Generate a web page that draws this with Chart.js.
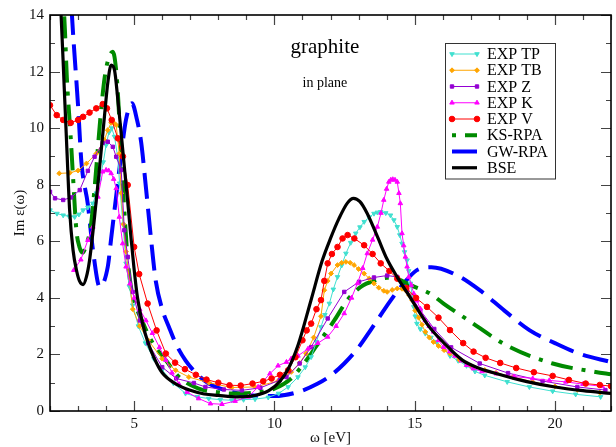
<!DOCTYPE html>
<html>
<head>
<meta charset="utf-8">
<title>graphite in plane</title>
<script src="https://cdn.jsdelivr.net/npm/chart.js@4.4.1/dist/chart.umd.min.js"></script>
<style>
  html, body { margin: 0; padding: 0; background: #fff; }
  canvas { display: block; }
</style>
</head>
<body>
<canvas id="grafico" width="616" height="447"></canvas>
<script>
// energia (eV) e Im eps para cada curva
const expTpX = [2.0, 2.25, 2.47, 2.68, 2.88, 3.03, 3.18, 3.35, 3.53, 3.65, 3.77, 3.9, 4.0, 4.1, 4.2, 4.3, 4.42, 4.48, 4.6, 4.71, 4.83, 4.95, 5.15, 5.4, 5.7, 6.0, 6.4, 6.83, 7.25, 7.66, 8.07, 8.48, 8.9, 9.31, 9.78, 10.15, 10.49, 10.84, 11.1, 11.31, 11.5, 11.66, 11.8, 11.96, 12.1, 12.25, 12.4, 12.55, 12.72, 12.9, 13.05, 13.2, 13.38, 13.55, 13.67, 13.79, 13.97, 14.14, 14.26, 14.38, 14.47, 14.55, 14.64, 14.73, 14.79, 14.85, 14.91, 14.97, 15.02, 15.08, 15.2, 15.38, 15.58, 15.79, 16.03, 16.26, 16.55, 16.85, 17.15, 17.5, 18.3, 19.09, 19.92, 20.74, 21.63];
const expTpY = [7.1, 6.98, 6.92, 6.88, 6.86, 6.95, 7.1, 7.2, 7.34, 7.7, 8.16, 8.8, 9.4, 9.85, 10.0, 9.7, 8.93, 8.05, 6.6, 5.22, 4.4, 3.74, 3.0, 2.4, 1.85, 1.45, 0.98, 0.62, 0.5, 0.44, 0.4, 0.38, 0.4, 0.42, 0.48, 0.62, 0.85, 1.2, 1.55, 1.91, 2.45, 2.97, 3.4, 3.8, 4.3, 4.74, 5.15, 5.57, 5.95, 6.28, 6.5, 6.69, 6.85, 6.98, 7.02, 7.04, 7.0, 6.92, 6.75, 6.51, 6.22, 5.92, 5.62, 5.33, 4.95, 4.51, 4.1, 3.68, 3.35, 3.09, 2.9, 2.74, 2.6, 2.44, 2.2, 1.95, 1.78, 1.6, 1.4, 1.26, 1.03, 0.85, 0.7, 0.59, 0.5];

const expTbX = [2.33, 2.71, 3.0, 3.3, 3.65, 3.94, 4.06, 4.18, 4.28, 4.36, 4.47, 4.54, 4.62, 4.71, 4.95, 5.2, 5.5, 6.0, 6.48, 6.95, 7.66, 8.48, 9.31, 10.13, 10.6, 10.9, 11.13, 11.4, 11.66, 11.78, 11.9, 12.02, 12.25, 12.4, 12.55, 12.7, 12.84, 13.0, 13.2, 13.38, 13.55, 13.72, 13.9, 14.02, 14.2, 14.38, 14.55, 14.67, 14.8, 14.91, 15.02, 15.14, 15.26, 15.38, 15.52, 15.67, 15.85, 16.05, 16.26, 16.6, 17.0, 17.5, 17.9, 18.5, 19.2, 20.0, 20.8, 21.6];
const expTbY = [8.4, 8.42, 8.5, 8.75, 9.1, 9.58, 9.93, 10.19, 10.18, 10.11, 9.1, 7.7, 6.6, 5.63, 3.6, 3.0, 2.5, 1.85, 1.44, 1.2, 1.0, 0.83, 0.85, 1.06, 1.38, 1.7, 2.03, 2.6, 3.35, 4.27, 4.6, 4.86, 5.16, 5.24, 5.27, 5.24, 5.16, 5.02, 4.86, 4.68, 4.51, 4.36, 4.25, 4.21, 4.28, 4.33, 4.32, 4.27, 4.1, 3.92, 3.55, 3.3, 3.05, 2.8, 2.6, 2.44, 2.3, 2.15, 2.03, 1.8, 1.6, 1.45, 1.35, 1.2, 1.03, 0.87, 0.75, 0.65];

const expZX = [2.0, 2.18, 2.47, 2.75, 3.06, 3.35, 3.59, 3.88, 4.06, 4.24, 4.36, 4.54, 4.65, 4.77, 4.95, 5.2, 5.5, 6.0, 6.5, 7.13, 7.54, 8.2, 8.84, 9.5, 10.19, 10.43, 10.9, 11.31, 11.9, 12.49, 13.02, 13.55, 14.02, 14.38, 14.73, 15.2, 15.7, 16.3, 17.32, 18.33, 19.56, 20.8, 21.8];
const expZY = [7.75, 7.52, 7.46, 7.55, 7.81, 8.49, 8.99, 9.48, 9.52, 9.34, 8.99, 8.52, 6.39, 5.45, 4.21, 3.2, 2.4, 1.55, 1.15, 0.99, 0.85, 0.76, 0.73, 0.82, 1.09, 1.2, 1.68, 2.26, 3.27, 4.21, 4.57, 4.72, 4.79, 4.74, 4.27, 3.56, 2.9, 2.25, 1.68, 1.34, 1.06, 0.85, 0.74];

const expKX = [2.85, 3.1, 3.35, 3.53, 3.71, 3.88, 4.0, 4.09, 4.18, 4.27, 4.36, 4.47, 4.59, 4.71, 4.85, 5.0, 5.2, 5.42, 5.65, 5.9, 6.13, 6.35, 6.6, 6.89, 7.3, 7.72, 8.13, 8.6, 9.07, 9.42, 9.84, 10.13, 10.43, 10.6, 10.84, 11.2, 11.55, 11.9, 12.2, 12.49, 12.75, 12.96, 13.15, 13.31, 13.5, 13.67, 13.8, 13.9, 14.0, 14.08, 14.15, 14.22, 14.3, 14.38, 14.44, 14.49, 14.55, 14.61, 14.67, 14.73, 14.79, 14.88, 14.97, 15.08, 15.2, 15.38, 15.52, 15.67, 15.85, 16.03, 16.25, 16.44, 16.67, 16.85, 17.09, 17.4, 17.91, 18.55, 19.21, 19.8, 20.39, 21.0, 21.69];
const expKY = [4.98, 5.35, 6.04, 6.51, 7.57, 8.46, 8.52, 8.5, 8.4, 8.2, 7.87, 6.86, 5.92, 5.1, 4.5, 4.0, 3.6, 3.2, 2.75, 2.25, 1.8, 1.35, 0.95, 0.67, 0.44, 0.26, 0.24, 0.35, 0.5, 0.85, 1.32, 1.6, 1.73, 1.85, 1.95, 2.2, 2.4, 2.62, 3.0, 3.45, 4.0, 4.51, 5.05, 5.57, 6.05, 6.51, 7.0, 7.46, 7.85, 8.1, 8.17, 8.19, 8.17, 8.1, 7.7, 7.34, 6.28, 5.85, 5.45, 5.1, 4.74, 4.45, 4.15, 3.9, 3.62, 3.2, 3.0, 2.8, 2.5, 2.26, 2.1, 1.95, 1.78, 1.62, 1.5, 1.4, 1.32, 1.22, 1.15, 1.08, 1.03, 0.95, 0.87];

const expVX = [2.0, 2.24, 2.47, 2.74, 3.0, 3.18, 3.41, 3.65, 3.88, 4.03, 4.2, 4.42, 4.6, 4.77, 5.0, 5.18, 5.48, 5.8, 6.13, 6.46, 6.81, 7.2, 7.58, 8.0, 8.4, 8.8, 9.22, 9.6, 9.9, 10.2, 10.49, 10.75, 11.0, 11.15, 11.31, 11.5, 11.66, 11.78, 11.9, 12.05, 12.25, 12.43, 12.61, 12.85, 13.2, 13.5, 13.79, 14.1, 14.38, 14.7, 15.05, 15.44, 15.85, 16.26, 16.73, 17.1, 17.53, 18.05, 18.62, 19.25, 19.92, 20.5, 21.1, 21.6, 22.0];
const expVY = [10.81, 10.46, 10.29, 10.19, 10.29, 10.4, 10.55, 10.7, 10.85, 10.7, 10.29, 9.64, 9.0, 7.99, 5.8, 4.84, 3.8, 2.85, 2.03, 1.71, 1.48, 1.28, 1.11, 1.0, 0.91, 0.9, 0.97, 1.05, 1.15, 1.28, 1.44, 1.9, 2.5, 2.85, 3.09, 3.6, 3.92, 4.6, 5.22, 5.55, 5.8, 6.1, 6.22, 6.1, 5.86, 5.55, 5.22, 4.95, 4.68, 4.35, 4.0, 3.68, 3.3, 2.86, 2.4, 2.1, 1.88, 1.7, 1.52, 1.37, 1.24, 1.1, 0.97, 0.92, 0.88];

const ksRpaX = [2.42, 2.53, 2.6, 2.73, 2.82, 2.94, 3.05, 3.16, 3.3, 3.45, 3.6, 3.8, 3.95, 4.1, 4.24, 4.38, 4.5, 4.62, 4.75, 4.9, 5.1, 5.3, 5.54, 5.8, 6.13, 6.6, 7.3, 8.0, 8.48, 9.3, 10.0, 10.6, 10.96, 11.5, 12.14, 12.6, 13.08, 13.6, 14.02, 14.4, 14.85, 15.55, 16.03, 16.91, 18.33, 19.92, 21.45, 22.0];
const ksRpaY = [15.5, 13.5, 11.8, 9.8, 8.3, 6.4, 5.8, 5.6, 5.9, 6.5, 8.0, 10.4, 11.8, 12.5, 12.7, 11.8, 9.8, 7.6, 5.6, 4.3, 3.6, 3.15, 2.62, 2.2, 1.79, 1.2, 0.79, 0.66, 0.62, 0.65, 0.79, 1.15, 1.56, 2.3, 3.21, 3.92, 4.39, 4.62, 4.71, 4.66, 4.45, 4.15, 3.8, 3.21, 2.29, 1.68, 1.38, 1.3];

const gwRpaX = [2.7, 2.8, 3.0, 3.12, 3.35, 3.53, 3.77, 4.06, 4.18, 4.36, 4.53, 4.71, 4.92, 5.1, 5.25, 5.42, 5.6, 5.77, 6.0, 6.24, 6.5, 6.83, 7.2, 7.66, 8.3, 9.07, 10.0, 10.84, 11.55, 12.0, 12.49, 13.0, 13.43, 14.14, 14.6, 15.08, 15.6, 16.5, 17.32, 18.2, 19.09, 20.0, 20.86, 22.0];
const gwRpaY = [15.5, 13.7, 10.8, 8.8, 7.3, 5.7, 4.39, 5.1, 6.1, 7.6, 9.0, 10.3, 10.88, 10.3, 9.5, 7.9, 6.1, 4.6, 3.6, 2.97, 2.35, 1.79, 1.35, 0.97, 0.72, 0.56, 0.53, 0.67, 0.97, 1.25, 1.68, 2.25, 2.86, 3.9, 4.5, 4.98, 5.08, 4.8, 4.27, 3.55, 2.86, 2.4, 2.03, 1.73];

const bseX = [2.3, 2.4, 2.5, 2.6, 2.7, 2.82, 2.95, 3.05, 3.18, 3.3, 3.41, 3.59, 3.77, 3.94, 4.06, 4.18, 4.3, 4.42, 4.54, 4.65, 4.77, 4.89, 5.0, 5.12, 5.3, 5.5, 5.7, 6.0, 6.5, 7.0, 7.5, 8.0, 8.7, 9.3, 9.8, 10.2, 10.5, 10.85, 11.3, 11.7, 12.0, 12.3, 12.6, 12.82, 13.05, 13.3, 13.7, 14.0, 14.4, 14.85, 15.5, 16.0, 16.7, 17.2, 18.0, 19.0, 20.0, 21.0, 22.0];
const bseY = [15.2, 13.9, 11.6, 9.3, 7.1, 5.7, 4.95, 4.6, 4.47, 4.75, 5.33, 6.87, 8.63, 10.4, 11.6, 12.23, 12.05, 11.0, 9.8, 8.63, 7.4, 6.1, 5.0, 4.0, 3.1, 2.4, 1.9, 1.35, 0.95, 0.73, 0.6, 0.55, 0.5, 0.55, 0.72, 1.05, 1.5, 2.35, 3.9, 5.3, 6.1, 6.8, 7.35, 7.52, 7.4, 7.0, 6.1, 5.4, 4.7, 4.0, 3.0, 2.45, 1.8, 1.55, 1.3, 1.04, 0.85, 0.72, 0.62];

const ticksX = [5, 10, 15, 20];

const fonte = "'Liberation Serif', 'Times New Roman', serif";

function pontos(xs, ys) {
    return xs.map((x, i) => ({ x: x, y: ys[i] }));
}

function serieExp(label, cor, xs, ys, estilo, raio, rot, ordem) {
    return {
        label: label, data: pontos(xs, ys),
        borderColor: cor, backgroundColor: cor, borderWidth: 1,
        pointStyle: estilo, pointRadius: raio, pointRotation: rot || 0,
        pointBorderWidth: 1, tension: 0, order: ordem, clip: 0
    };
}

function serieTeo(label, cor, xs, ys, largura, tracejado, ordem) {
    return {
        label: label, data: pontos(xs, ys),
        borderColor: cor, backgroundColor: cor, borderWidth: largura,
        borderDash: tracejado, pointRadius: 0, cubicInterpolationMode: 'monotone',
        order: ordem, clip: 0
    };
}

const datasets = [
    serieExp('EXP TP', '#40e0d0', expTpX, expTpY, 'triangle', 2.6, 180, 5),
    serieExp('EXP TB', '#ffa500', expTbX, expTbY, 'rectRot', 2.4, 0, 4),
    serieExp('EXP Z', '#9400d3', expZX, expZY, 'rect', 2.4, 0, 3),
    serieExp('EXP K', '#ff00ff', expKX, expKY, 'triangle', 2.6, 0, 2),
    serieExp('EXP V', '#ff0000', expVX, expVY, 'circle', 2.8, 0, 1),
    serieTeo('KS-RPA', '#008a00', ksRpaX, ksRpaY, 4, [22, 9, 4, 9], 6),
    serieTeo('GW-RPA', '#0000ff', gwRpaX, gwRpaY, 4, [26, 10], 7),
    serieTeo('BSE', '#000000', bseX, bseY, 3.2, [], 0)
];

// marcas de escala para dentro nos quatro lados + moldura
const marcasInternas = {
    id: 'marcasInternas',
    afterDatasetsDraw(chart) {
        const { ctx, chartArea: a, scales: { x, y } } = chart;
        ctx.save();
        ctx.strokeStyle = '#444';
        ctx.lineWidth = 1.2;
        ctx.beginPath();
        for (let v = 2; v <= 22; v++) {
            const px = Math.round(x.getPixelForValue(v)) + 0.5;
            const len = v % 5 === 0 ? 10 : 5;
            ctx.moveTo(px, a.bottom); ctx.lineTo(px, a.bottom - len);
            ctx.moveTo(px, a.top); ctx.lineTo(px, a.top + len);
        }
        for (let v = 0; v <= 14; v++) {
            const py = Math.round(y.getPixelForValue(v)) + 0.5;
            const len = v % 2 === 0 ? 10 : 5;
            ctx.moveTo(a.left, py); ctx.lineTo(a.left + len, py);
            ctx.moveTo(a.right, py); ctx.lineTo(a.right - len, py);
        }
        ctx.stroke();
        ctx.strokeStyle = '#000';
        ctx.lineWidth = 1.6;
        ctx.strokeRect(a.left, a.top, a.right - a.left, a.bottom - a.top);

        // textos dentro do grafico
        ctx.fillStyle = '#000';
        ctx.textAlign = 'center';
        ctx.textBaseline = 'alphabetic';
        ctx.font = '21px ' + fonte;
        ctx.fillText('graphite', x.getPixelForValue(11.8), y.getPixelForValue(12.65));
        ctx.font = '14px ' + fonte;
        ctx.fillText('in plane', x.getPixelForValue(11.8), y.getPixelForValue(11.45));
        ctx.restore();
    }
};

// legenda desenhada dentro da area do grafico
const legendaCaixa = {
    id: 'legendaCaixa',
    afterDraw(chart) {
        const { ctx } = chart;
        const left = 445.5, top = 43.5, w = 110, h = 135.5;
        const x0 = 452, x1 = 477, passo = 16.25;
        ctx.save();
        ctx.fillStyle = '#fff';
        ctx.fillRect(left, top, w, h);
        ctx.strokeStyle = '#333';
        ctx.lineWidth = 1;
        ctx.strokeRect(left, top, w, h);
        chart.data.datasets.forEach((ds, i) => {
            const yy = 54 + i * passo;
            ctx.save();
            ctx.strokeStyle = ds.borderColor;
            ctx.lineWidth = ds.borderWidth;
            if (ds.borderDash && ds.borderDash.length === 4) {
                // comeca pelo ponto do traco-ponto
                ctx.setLineDash(ds.borderDash);
                ctx.lineDashOffset = ds.borderDash[0] + ds.borderDash[1];
            }
            ctx.beginPath();
            ctx.moveTo(x0, yy); ctx.lineTo(x1, yy);
            ctx.stroke();
            ctx.restore();
            if (ds.pointRadius > 0) {
                ctx.save();
                ctx.fillStyle = ds.backgroundColor;
                ctx.strokeStyle = ds.borderColor;
                ctx.lineWidth = 1;
                [x0, x1].forEach(px => {
                    Chart.helpers.drawPoint(ctx, {
                        pointStyle: ds.pointStyle, rotation: ds.pointRotation,
                        radius: ds.pointRadius, borderWidth: 1
                    }, px, yy);
                });
                ctx.restore();
            }
            ctx.fillStyle = '#000';
            ctx.font = '16px ' + fonte;
            ctx.textAlign = 'left';
            ctx.textBaseline = 'middle';
            ctx.fillText(ds.label, 487, yy + 1);
        });
        ctx.restore();
    }
};

const ctx = document.getElementById('grafico').getContext('2d');
const meuGrafico = new Chart(ctx, {
    type: 'line',
    data: { datasets: datasets },
    options: {
        responsive: false,
        animation: false,
        devicePixelRatio: 1,
        layout: { padding: { top: 15, right: 1, left: 0, bottom: 0 } },
        plugins: { legend: { display: false }, tooltip: { enabled: false } },
        scales: {
            x: {
                type: 'linear', min: 2, max: 22,
                grid: { display: false, drawTicks: false },
                border: { display: false },
                afterBuildTicks: s => { s.ticks = ticksX.map(v => ({ value: v })); },
                afterFit: s => { s.height = 36; },
                ticks: { color: '#111', padding: 4, maxRotation: 0, font: { family: fonte, size: 15 } },
                title: { display: true, text: 'ω [eV]', color: '#111', padding: { top: 0, bottom: 0 }, font: { family: fonte, size: 15 } }
            },
            y: {
                type: 'linear', min: 0, max: 14,
                grid: { display: false, drawTicks: false },
                border: { display: false },
                afterFit: s => { s.width = 50; },
                ticks: { stepSize: 2, color: '#111', padding: 6, font: { family: fonte, size: 15 } },
                title: { display: true, text: 'Im ε(ω)', color: '#111', padding: { top: 11, bottom: 0 }, font: { family: fonte, size: 15 } }
            }
        }
    },
    plugins: [marcasInternas, legendaCaixa]
});
</script>
</body>
</html>
